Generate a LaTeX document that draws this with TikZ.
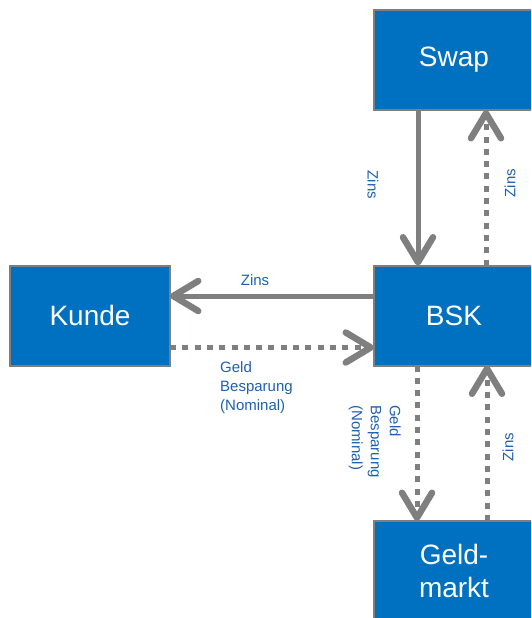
\documentclass[tikz,border=0pt]{standalone}
\usepackage{fontspec}
\setmainfont{Liberation Sans}
\usetikzlibrary{arrows.meta,calc}
\definecolor{boxblue}{HTML}{0070C0}
\definecolor{linegray}{HTML}{7F7F7F}
\definecolor{labelblue}{HTML}{1F5FB0}
\tikzset{
  box/.style={draw=linegray, line width=2pt, fill=boxblue, text=white,
    minimum width=160pt, minimum height=100pt, inner sep=0pt, outer sep=0pt,
    font=\fontsize{28}{33}\selectfont, align=center},
  flow/.style={draw=linegray, line width=5pt,
    -{Straight Barb[length=25pt,width=30pt,line width=6.5pt,round]}},
  dotflow/.style={flow, dash pattern=on 6pt off 6.3pt},
  lbl/.style={text=labelblue, font=\fontsize{15}{19}\selectfont, inner sep=0pt}
}
\begin{document}
\begin{tikzpicture}[x=1pt,y=-1pt]
\useasboundingbox (0,0) rectangle (531,618);
\clip (0,0) rectangle (531,618);
\node[box] (swap) at (454,60) {Swap};
\node[box] (kunde) at (90,315.5) {Kunde};
\node[box] (bsk) at (454,315.5) {BSK};
\node[box] (geld) at (454,571) {Geld-\\markt};
% Swap <-> BSK
\draw[flow] ([xshift=-36pt]swap.south) -- ([xshift=-36pt]bsk.north);
\draw[dotflow] ([xshift=32pt]bsk.north) -- ([xshift=32pt]swap.south);
% BSK <-> Kunde
\draw[flow] ([yshift=19.5pt]bsk.west) -- ([yshift=19.5pt]kunde.east);
\draw[dotflow] ([yshift=-32pt]kunde.east) -- ([yshift=-32pt]bsk.west);
% BSK <-> Geldmarkt
\draw[dotflow] ([xshift=-37pt]bsk.south) -- ([xshift=-37pt]geld.north);
\draw[dotflow] ([xshift=33pt]geld.north) -- ([xshift=33pt]bsk.south);
% labels
\node[lbl] (l1) at (255,280) {Zins};
\node[lbl, align=left, anchor=north west] (l2) at (220,361) {Geld\\Besparung\\(Nominal)};
\node[lbl, rotate=-90] (l3) at (373,185) {Zins};
\node[lbl, rotate=90] (l4) at (510,183) {Zins};
\node[lbl, rotate=-90, align=left, anchor=north west] (l5) at (401,405) {Geld\\Besparung\\(Nominal)};
\node[lbl, rotate=90] (l6) at (508,447) {Zins};
\end{tikzpicture}
\end{document}
